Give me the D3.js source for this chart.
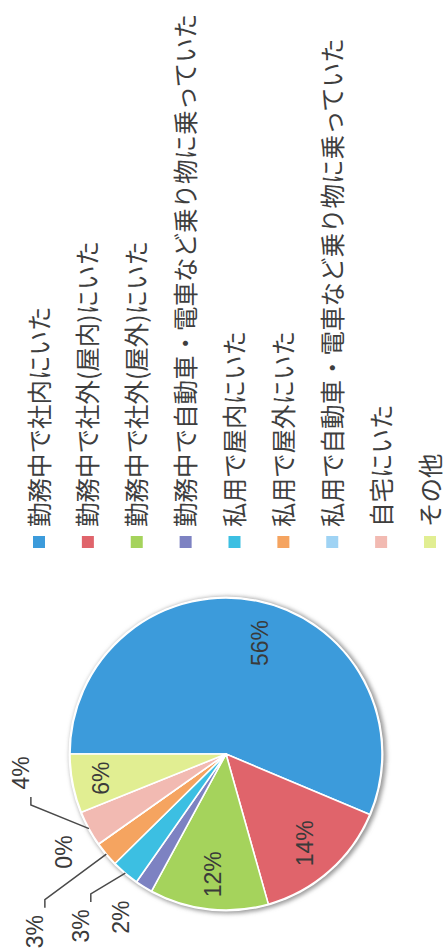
<!DOCTYPE html>
<html><head><meta charset="utf-8">
<script src="https://cdn.jsdelivr.net/npm/d3@7"></script>
<style>html,body{margin:0;padding:0;background:#fff;}svg{display:block;}</style>
</head><body>
<script>
const categories = ["勤務中で社内にいた","勤務中で社外(屋内)にいた","勤務中で社外(屋外)にいた","勤務中で自動車・電車など乗り物に乗っていた","私用で屋内にいた","私用で屋外にいた","私用で自動車・電車など乗り物に乗っていた","自宅にいた","その他"];
const values = [56.4,14.3,12.3,1.8,2.9,2.6,0,3.7,6.1];
const labels = ["56%","14%","12%","2%","3%","3%","0%","4%","6%"];
const colors = ["#3c9bdb","#e0646b","#a5d35c","#7d82c2","#3cbfe2","#f5a460","#9fd3f4","#f2bab2","#e1ee92"];

const W = 446, H = 948;
const cx = 226, cy = 754, R = 156;
// label layout: radius, angle nudge (deg), leader line
const labelLayout = [
  {r:116, da:5.5, leader:false},
  {r:119, da:0, leader:false},
  {r:121, da:0, leader:false},
  {r:194, da:1, leader:false},
  {r:225, da:0, leader:true},
  {r:261, da:-3, leader:true},
  {r:189, da:4, leader:false},
  {r:206, da:23.3, leader:true},
  {r:127, da:0, leader:false}
];

const svg = d3.select("body").append("svg").attr("width", W).attr("height", H);
const defs = svg.append("defs");
const f = defs.append("filter").attr("id","sh").attr("x","-20%").attr("y","-20%").attr("width","140%").attr("height","140%");
f.append("feGaussianBlur").attr("stdDeviation", 2.2);

const pie = d3.pie().value(d => d).sort(null).startAngle(-Math.PI/2).endAngle(1.5*Math.PI);
const arcs = pie(values);
const arc = d3.arc().innerRadius(0).outerRadius(R);

const g = svg.append("g").attr("transform", `translate(${cx},${cy})`);
g.append("circle").attr("cx", 2).attr("cy", 1).attr("r", R + 2.5)
  .attr("fill", "#9a9a9a").attr("filter", "url(#sh)");
g.append("circle").attr("r", R + 1.5).attr("fill", "#fff");
g.selectAll("path.slice").data(arcs).join("path").attr("class","slice")
  .attr("d", arc).attr("fill", (d,i) => colors[i])
  .attr("stroke", "#fff").attr("stroke-width", 1.6).attr("stroke-linejoin","round");

function polar(r, a) { return [r * Math.sin(a), -r * Math.cos(a)]; }

arcs.forEach((d, i) => {
  const L = labelLayout[i];
  const mid = (d.startAngle + d.endAngle) / 2;
  const [lx, ly] = polar(L.r, mid + L.da * Math.PI / 180);
  if (L.leader) {
    const [ex, ey] = polar(R, mid);
    const s = ly < ey ? 1 : -1;
    const pts = [[ex, ey], [lx + 10, ly + s * 32], [lx + 10, ly + s * 24]];
    g.append("path").attr("d", d3.line()(pts)).attr("fill","none")
      .attr("stroke", "#4a4a4a").attr("stroke-width", 1.5);
  }
  g.append("text").attr("transform", `translate(${lx},${ly}) rotate(-90)`)
    .attr("text-anchor","middle").attr("dominant-baseline","central")
    .attr("font-family","'Liberation Sans', Arial, sans-serif")
    .attr("font-size", 23).attr("fill","#3a3a3a").text(labels[i]);
});

// legend
const lx = d3.scalePoint().domain(categories).range([39, 430]);
const leg = svg.append("g");
categories.forEach((c, i) => {
  const x = lx(c);
  leg.append("rect").attr("x", x - 6).attr("y", 536).attr("width", 12).attr("height", 12)
    .attr("fill", colors[i]);
  leg.append("text").attr("transform", `translate(${x - 1},527) rotate(-90)`)
    .attr("text-anchor","start").attr("dominant-baseline","central")
    .attr("font-family","'Noto Sans CJK JP', sans-serif").attr("font-size", 24.5)
    .attr("fill","#3e3e3e").text(c);
});
</script>
</body></html>
